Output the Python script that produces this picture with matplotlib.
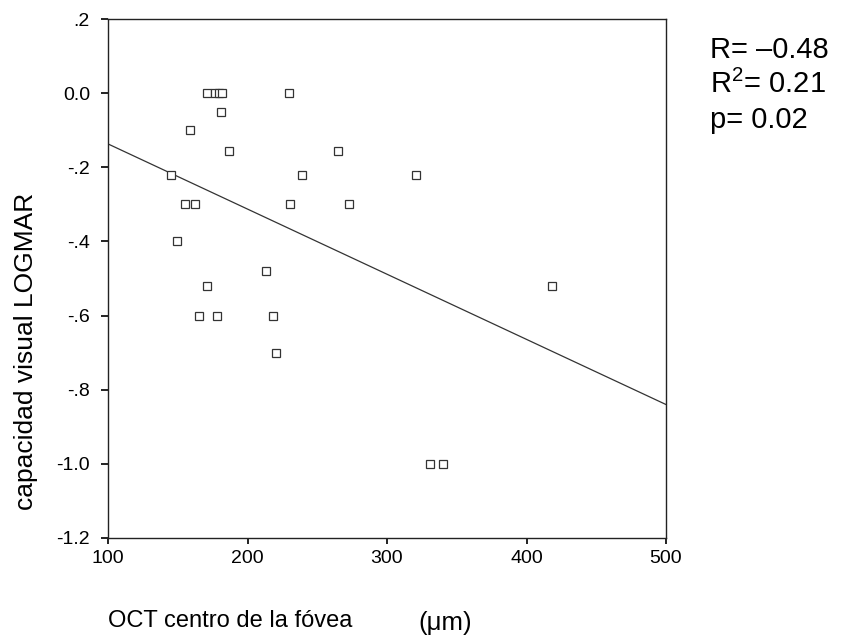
import numpy as np
import matplotlib.pyplot as plt

# OCT foveal thickness (um) vs visual acuity (LOGMAR)
oct_um = [171.0, 176.9, 179.3, 181.7, 229.4, 181.0, 159.1, 187.0, 264.5,
          145.2, 239.4, 320.6, 155.5, 162.6, 230.6, 272.9, 149.7, 213.2,
          170.7, 165.5, 177.9, 218.0, 220.1, 418.4, 330.8, 339.9]
logmar = [0.0, 0.0, 0.0, 0.0, 0.0, -0.05, -0.10, -0.155, -0.155,
          -0.22, -0.22, -0.22, -0.30, -0.30, -0.30, -0.30, -0.40, -0.48,
          -0.52, -0.60, -0.60, -0.60, -0.70, -0.52, -1.0, -1.0]

# fitted line, read at the axis ends
fit_x = [100, 500]
fit_y = [-0.137, -0.840]

xticks = [100, 200, 300, 400, 500]
yticks = [0.2, 0.0, -0.2, -0.4, -0.6, -0.8, -1.0, -1.2]
ytick_labels = ['.2', '0.0', '-.2', '-.4', '-.6', '-.8', '-1.0', '-1.2']

font = ['Liberation Sans', 'DejaVu Sans']

fig = plt.figure(figsize=(8.42, 6.42), dpi=100)
ax = fig.add_axes([0.1283, 0.162, 0.6627, 0.8084])

ax.plot(fit_x, fit_y, '-', color='#333333', lw=0.9)
ax.plot(oct_um, logmar, 's', ms=6.3, mfc='white', mec='#333333', mew=0.9)

ax.set_xlim(100, 500)
ax.set_ylim(-1.2, 0.2)
ax.set_xticks(xticks)
ax.set_xticklabels([str(v) for v in xticks], family=font, fontsize=14)
ax.set_yticks(yticks)
ax.set_yticklabels(ytick_labels, family=font, fontsize=14)
ax.tick_params(axis='x', direction='out', length=4, width=1.4, color='#222222', pad=5)
ax.tick_params(axis='y', direction='out', length=5, width=1.4, color='#222222', pad=8)
for s in ax.spines.values():
    s.set_linewidth(1.0)
    s.set_color('#222222')

fig.text(0.031, 0.452, 'capacidad visual LOGMAR', family=font, fontsize=19,
         rotation=90, ha='center', va='center')

fig.text(0.128, 0.0234, 'OCT centro de la fóvea', family=font, fontsize=17,
         va='baseline')
fig.text(0.4964, 0.019, '(μm)', family=font, fontsize=18.5, va='baseline')

plt.rcParams['mathtext.fontset'] = 'custom'
plt.rcParams['mathtext.rm'] = 'Liberation Sans'
fig.text(0.8432, 0.909, 'R= –0.48', family=font, fontsize=21, va='baseline')
fig.text(0.8432, 0.855, 'R$^{\\mathrm{2}}$= 0.21', family=font, fontsize=21, va='baseline')
fig.text(0.8432, 0.801, 'p= 0.02', family=font, fontsize=21, va='baseline')

fig.savefig('out.png', dpi=100)
